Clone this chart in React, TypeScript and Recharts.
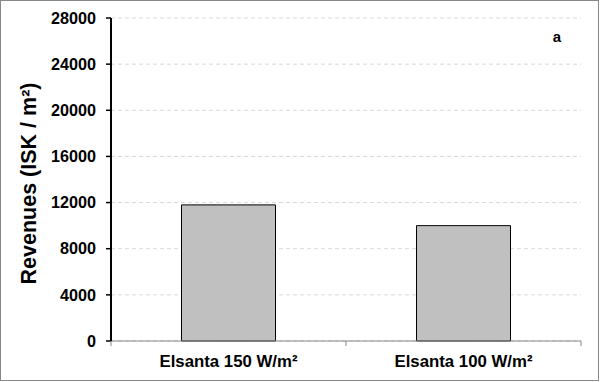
import { BarChart, Bar, XAxis, YAxis, CartesianGrid, Customized } from "recharts";

const categories = ["Elsanta 150 W/m²", "Elsanta 100 W/m²"];
const revenues = [11800, 10000];
const yTicks = [0, 4000, 8000, 12000, 16000, 20000, 24000, 28000];

const data = categories.map((name, i) => ({ name, revenue: revenues[i] }));

const W = 600;
const H = 382;
const margin = { top: 18, right: 19, bottom: 11, left: 0 };
const yAxisW = 111;
const halfBand = (W - margin.left - margin.right - yAxisW) / categories.length / 2;
const font = "'Liberation Sans', Arial, sans-serif";

const XTick = (props: any) => {
  const { x, y, payload, index } = props;
  return (
    <g>
      {index === 0 && (
        <line x1={x - halfBand} x2={x - halfBand} y1={y} y2={y + 5} stroke="#868686" />
      )}
      <line x1={x + halfBand} x2={x + halfBand} y1={y} y2={y + 5} stroke="#868686" />
      <text
        x={x}
        y={y + 14}
        dy="0.71em"
        textAnchor="middle"
        fontSize={16.8}
        fontWeight="bold"
        fontFamily={font}
        fill="#000"
      >
        {payload.value}
      </text>
    </g>
  );
};

const YLabel = (props: any) => {
  const { viewBox } = props;
  const cy = viewBox.y + viewBox.height / 2 + 4;
  return (
    <text
      x={29}
      y={cy}
      transform={`rotate(-90, 29, ${cy})`}
      textAnchor="middle"
      dominantBaseline="central"
      fontSize={21.5}
      fontWeight="bold"
      fontFamily={font}
      fill="#000"
    >
      Revenues (ISK / m²)
    </text>
  );
};

export default function App() {
  return (
    <div
      style={{
        position: "absolute",
        left: 0,
        top: 0,
        width: W,
        height: H,
        background: "#fff",
      }}
    >
      <div
        style={{
          position: "absolute",
          left: 0,
          top: 0,
          width: 599,
          height: 381,
          border: "1px solid #888",
          boxSizing: "border-box",
          pointerEvents: "none",
          zIndex: 2,
        }}
      />
      <BarChart width={W} height={H} data={data} margin={margin} barCategoryGap="30%">
        <CartesianGrid
          vertical={false}
          stroke="#d9d9d9"
          strokeDasharray="4 3"
        />
        <XAxis
          dataKey="name"
          height={30}
          tickSize={0}
          tickMargin={0}
          tick={<XTick />}
          axisLine={{ stroke: "#868686" }}
          tickLine={false}
          interval={0}
        />
        <YAxis
          width={yAxisW}
          domain={[0, 28000]}
          ticks={yTicks}
          interval={0}
          tickSize={5}
          tickMargin={10}
          axisLine={{ stroke: "#000", strokeWidth: 2 }}
          tickLine={{ stroke: "#000", strokeWidth: 1.5 }}
          tick={{ fontSize: 16.2, fontWeight: "bold", fill: "#000", fontFamily: font }}
          label={<YLabel />}
        />
        <Bar
          dataKey="revenue"
          fill="#c0c0c0"
          stroke="#000"
          strokeWidth={1}
          isAnimationActive={false}
        />
        <Customized
          component={() => (
            <text
              x={557}
              y={42}
              textAnchor="middle"
              fontSize={15}
              fontWeight="bold"
              fontFamily={font}
              fill="#000"
            >
              a
            </text>
          )}
        />
      </BarChart>
    </div>
  );
}
